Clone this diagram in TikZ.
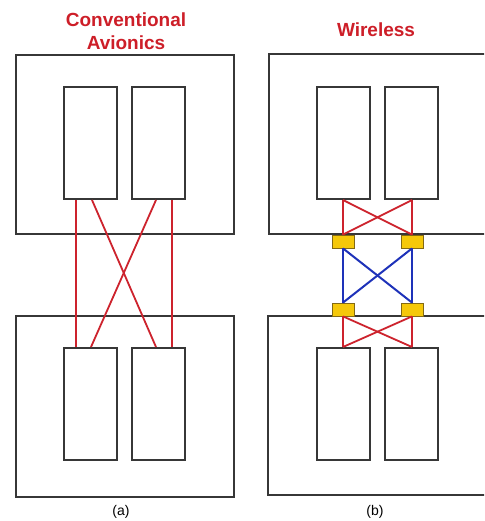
\documentclass[tikz,border=0pt]{standalone}
\usepackage{fontspec}
\setmainfont{Liberation Sans}
\usetikzlibrary{calc}
\definecolor{lgray}{RGB}{55,55,55}
\definecolor{wred}{RGB}{205,35,45}
\definecolor{tred}{RGB}{205,30,40}
\definecolor{wblue}{RGB}{30,50,185}
\definecolor{wyel}{RGB}{245,200,10}
\definecolor{wyeld}{RGB}{130,105,20}
\tikzset{
  outerbox/.style={draw=lgray, line width=2pt, inner sep=0pt, fill=white},
  innerbox/.style={draw=lgray, line width=2pt, inner sep=0pt, minimum width=53pt, minimum height=112pt},
  ybox/.style={draw=wyeld, line width=0.8pt, fill=wyel, inner sep=0pt, minimum width=22pt, minimum height=13pt},
  redline/.style={draw=wred, line width=1.8pt},
  blueline/.style={draw=wblue, line width=2pt},
  titletext/.style={text=tred, font=\fontsize{19}{23}\selectfont\bfseries, align=center},
  captext/.style={font=\fontsize{14}{16}\selectfont}
}
\begin{document}
\begin{tikzpicture}[x=1pt,y=-1pt]
\path[use as bounding box] (0,0) rectangle (484,521);
\clip (0,0) rectangle (484,521);
% titles
\node[titletext] (t1) at (126,31.5) {Conventional\\Avionics};
\node[titletext] (t2) at (376,30) {Wireless};
% ---------- left panel ----------
\node[outerbox, minimum width=218pt, minimum height=179pt] (LT) at (125,144.5) {};
\node[outerbox, minimum width=218pt, minimum height=181pt] (LB) at (125,406.5) {};
\node[innerbox] (a1) at (90.5,143) {};
\node[innerbox] (a2) at (158.5,143) {};
\node[innerbox] (a3) at (90.5,404) {};
\node[innerbox] (a4) at (158.5,404) {};
\coordinate (p1) at ($(a1.south west)+(13,0)$);
\coordinate (p2) at ($(a1.south west)+(29,0)$);
\coordinate (p3) at ($(a2.south west)+(25,0)$);
\coordinate (p4) at ($(a2.south west)+(41,0)$);
\coordinate (q1) at ($(a3.north west)+(13,0)$);
\coordinate (q2) at ($(a3.north west)+(28,0)$);
\coordinate (q3) at ($(a4.north west)+(25,0)$);
\coordinate (q4) at ($(a4.north west)+(41,0)$);
\draw[redline] (p1) -- (q1);
\draw[redline] (p2) -- (q3);
\draw[redline] (p3) -- (q2);
\draw[redline] (p4) -- (q4);
\node[captext] (ca) at (121,512) {(a)};
% ---------- right panel ----------
\node[outerbox, minimum width=251pt, minimum height=180pt] (RT) at (394.5,144) {};
\node[outerbox, minimum width=252pt, minimum height=179pt] (RB) at (394,405.5) {};
\node[innerbox] (b1) at (343.5,143) {};
\node[innerbox] (b2) at (411.5,143) {};
\node[innerbox] (b3) at (343.5,404) {};
\node[innerbox] (b4) at (411.5,404) {};
\node[ybox] (y1) at (343,241.5) {};
\node[ybox] (y2) at (412,241.5) {};
\node[ybox] (y3) at (343,309.5) {};
\node[ybox] (y4) at (412,309.5) {};
\coordinate (r1) at (y1.north |- b1.south);
\coordinate (r2) at (y2.north |- b2.south);
\coordinate (s1) at (y3.south |- b3.north);
\coordinate (s2) at (y4.south |- b4.north);
\draw[redline] (r1) -- (y1.north);
\draw[redline] (r2) -- (y2.north);
\draw[redline] (r1) -- (y2.north);
\draw[redline] (r2) -- (y1.north);
\draw[blueline] (y1.south) -- (y3.north);
\draw[blueline] (y2.south) -- (y4.north);
\draw[blueline] (y1.south) -- (y4.north);
\draw[blueline] (y2.south) -- (y3.north);
\draw[redline] (y3.south) -- (s1);
\draw[redline] (y4.south) -- (s2);
\draw[redline] (y3.south) -- (s2);
\draw[redline] (y4.south) -- (s1);
\node[captext] (cb) at (375,512) {(b)};
\end{tikzpicture}
\end{document}
